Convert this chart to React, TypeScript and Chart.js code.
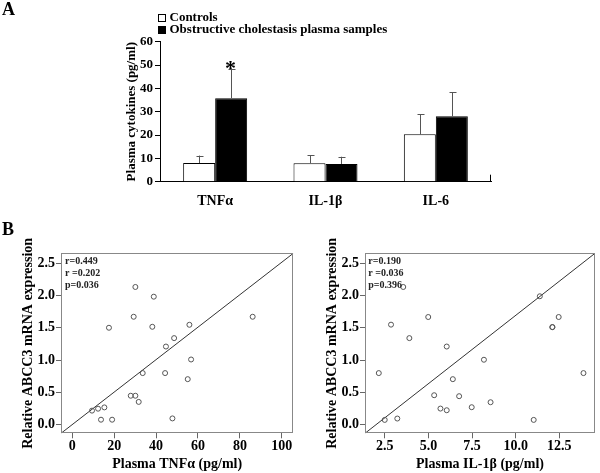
import React, { useEffect, useRef } from 'react';
import { Chart, registerables } from 'chart.js';
Chart.register(...registerables);

const SERIF = "'Liberation Serif', 'Times New Roman', serif";

// ---- Panel A data ----
const cytokines = ['TNFα', 'IL-1β', 'IL-6'];
const controlsMean = [8.0, 7.9, 20.3];
const controlsSD = [3.2, 3.5, 8.6];
const patientsMean = [35.8, 7.6, 28.0];
const patientsSD = [12.6, 3.1, 10.3];
const seriesLabels = ['Controls', 'Obstructive cholestasis plasma samples'];
const barYTitle = 'Plasma cytokines (pg/ml)';
const significant = [true, false, false];

// ---- Panel B data ----
const tnfX = [30.1, 38.9, 29.3, 86.1, 55.9, 38.2, 17.5, 48.6, 44.7, 56.7, 33.6, 44.3, 55.1, 27.9, 30.1, 31.7, 15.3, 12.3, 9.4, 47.8, 13.7, 19.0];
const tnfY = [2.13, 1.98, 1.67, 1.67, 1.546, 1.515, 1.50, 1.34, 1.21, 1.01, 0.80, 0.80, 0.706, 0.45, 0.45, 0.355, 0.27, 0.25, 0.22, 0.10, 0.08, 0.08];
const il1bX = [3.56, 11.38, 4.99, 12.46, 2.86, 12.1, 12.1, 3.91, 6.05, 8.18, 2.16, 13.88, 6.40, 5.33, 6.76, 8.56, 7.48, 5.69, 6.05, 3.22, 2.5, 11.03];
const il1bY = [2.13, 1.986, 1.666, 1.666, 1.548, 1.51, 1.51, 1.34, 1.21, 1.006, 0.80, 0.80, 0.706, 0.458, 0.443, 0.35, 0.273, 0.252, 0.226, 0.098, 0.077, 0.077];
const tnfStats = ['r=0.449', 'r =0.202', 'p=0.036'];
const il1bStats = ['r=0.190', 'r =0.036', 'p=0.396'];
const tnfXRange = [-5.4, 105.5];
const il1bXRange = [1.37, 14.54];
const yRange = [-0.13, 2.65];
const tnfXStep = 20;
const il1bXStep = 2.5;
const yStep = 0.5;
const scatterYTitle = 'Relative ABCC3 mRNA expression';
const tnfXTitle = 'Plasma TNFα (pg/ml)';
const il1bXTitle = 'Plasma IL-1β (pg/ml)';

const errorBarPlugin = {
  id: 'errorBars',
  afterDatasetsDraw(chart: any) {
    const ctx = chart.ctx;
    const y = chart.scales.y;
    const sds = [controlsSD, patientsSD];
    ctx.save();
    ctx.strokeStyle = '#555';
    ctx.lineWidth = 1;
    chart.data.datasets.forEach((ds: any, di: number) => {
      const meta = chart.getDatasetMeta(di);
      meta.data.forEach((bar: any, i: number) => {
        const top = y.getPixelForValue(ds.data[i] + sds[di][i]);
        const x = Math.round(bar.x) + 0.5;
        ctx.beginPath();
        ctx.moveTo(x, bar.y);
        ctx.lineTo(x, top);
        ctx.moveTo(x - 3, Math.round(top) + 0.5);
        ctx.lineTo(x + 4, Math.round(top) + 0.5);
        ctx.stroke();
        if (di === 1 && significant[i]) {
          ctx.fillStyle = '#000';
          ctx.font = `bold 22px ${SERIF}`;
          ctx.textAlign = 'center';
          ctx.textBaseline = 'alphabetic';
          ctx.fillText('*', x - 1, top + 6);
        }
      });
    });
    // right end tick of x axis
    const a = chart.chartArea;
    ctx.strokeStyle = '#000';
    ctx.beginPath();
    ctx.moveTo(Math.round(a.right) - 0.5, a.bottom);
    ctx.lineTo(Math.round(a.right) - 0.5, a.bottom - 7);
    ctx.stroke();
    ctx.restore();
  },
};

const legendPlugin = {
  id: 'customLegend',
  afterDraw(chart: any) {
    const ctx = chart.ctx;
    ctx.save();
    chart.data.datasets.forEach((ds: any, i: number) => {
      const cy = 18 + i * 12;
      ctx.fillStyle = ds.backgroundColor;
      ctx.fillRect(158.5, cy - 3.5, 7, 7);
      ctx.strokeStyle = '#000';
      ctx.lineWidth = 1;
      ctx.strokeRect(158.5, cy - 3.5, 7, 7);
      ctx.fillStyle = '#000';
      ctx.font = `bold 13px ${SERIF}`;
      ctx.textAlign = 'left';
      ctx.textBaseline = 'middle';
      ctx.fillText(ds.label, 169.5, cy);
    });
    ctx.restore();
  },
};

const boxPlugin = {
  id: 'plotBox',
  afterDatasetsDraw(chart: any) {
    const a = chart.chartArea;
    const ctx = chart.ctx;
    ctx.save();
    ctx.strokeStyle = '#888';
    ctx.lineWidth = 1;
    ctx.strokeRect(Math.round(a.left) + 0.5, Math.round(a.top) + 0.5, Math.round(a.right - a.left) - 1, Math.round(a.bottom - a.top) - 1);
    const stats: string[] = chart.options.plugins.plotBox.lines;
    ctx.fillStyle = '#222';
    ctx.font = `bold 10px ${SERIF}`;
    ctx.textAlign = 'left';
    ctx.textBaseline = 'middle';
    stats.forEach((t, i) => ctx.fillText(t, a.left + chart.options.plugins.plotBox.dx, a.top + 8.5 + i * 11.7));
    ctx.restore();
  },
};

function tickFont(size: number) {
  return { family: SERIF, size, weight: 'bold' as const };
}

function scatterConfig(xs: number[], ys: number[], stats: string[], xTitle: string, xRange: number[], xStep: number, xDecimals: number, padLeft: number, yWidth: number, padRight: number, dx: number): any {
  return {
    type: 'scatter',
    data: {
      datasets: [
        {
          data: xs.map((x, i) => ({ x, y: ys[i] })),
          pointRadius: 2.5,
          pointBorderColor: '#555',
          pointBackgroundColor: 'rgba(255,255,255,0)',
          pointBorderWidth: 1,
        },
        {
          data: [
            { x: xRange[0], y: yRange[0] },
            { x: xRange[1], y: yRange[1] },
          ],
          showLine: true,
          pointRadius: 0,
          borderColor: '#333',
          borderWidth: 1,
        },
      ],
    },
    options: {
      responsive: false,
      animation: false,
      devicePixelRatio: 1,
      layout: { padding: { left: padLeft, top: 33.3, right: padRight, bottom: 0 } },
      plugins: { legend: { display: false }, tooltip: { enabled: false }, plotBox: { lines: stats, dx } },
      scales: {
        x: {
          type: 'linear',
          min: xRange[0],
          max: xRange[1],
          grid: { drawOnChartArea: false, drawTicks: true, tickLength: 5, color: '#666' },
          border: { display: false },
          ticks: {
            stepSize: xStep,
            includeBounds: false,
            color: '#000',
            font: tickFont(14),
            padding: 0,
            maxRotation: 0,
            callback: (v: any) => Number(v).toFixed(xDecimals),
          },
          title: { display: true, text: xTitle, color: '#000', font: tickFont(14), padding: 0 },
          afterFit: (s: any) => { s.height = 39.7; },
        },
        y: {
          type: 'linear',
          min: yRange[0],
          max: yRange[1],
          grid: { drawOnChartArea: false, drawTicks: true, tickLength: 5, color: '#666' },
          border: { display: false },
          ticks: {
            stepSize: yStep,
            includeBounds: false,
            color: '#000',
            font: tickFont(14),
            padding: 1,
            callback: (v: any) => Number(v).toFixed(1),
          },
          title: { display: true, text: scatterYTitle, color: '#000', font: tickFont(14), padding: 0 },
          afterFit: (s: any) => { s.width = yWidth; },
        },
      },
    },
    plugins: [boxPlugin],
  };
}

export default function App() {
  const barRef = useRef<HTMLCanvasElement>(null);
  const leftRef = useRef<HTMLCanvasElement>(null);
  const rightRef = useRef<HTMLCanvasElement>(null);

  useEffect(() => {
    const bar = new Chart(barRef.current as HTMLCanvasElement, {
      type: 'bar',
      data: {
        labels: cytokines,
        datasets: [
          { label: seriesLabels[0], data: controlsMean, backgroundColor: '#fff', borderColor: '#000', borderWidth: 1, barPercentage: 1, categoryPercentage: 0.58 },
          { label: seriesLabels[1], data: patientsMean, backgroundColor: '#000', borderColor: '#000', borderWidth: 1, barPercentage: 1, categoryPercentage: 0.58 },
        ],
      },
      options: {
        responsive: false,
        animation: false,
        devicePixelRatio: 1,
        layout: { padding: { left: 124, top: 41.7, right: 109, bottom: 3.3 } },
        plugins: { legend: { display: false }, tooltip: { enabled: false } },
        scales: {
          x: {
            grid: { display: false },
            border: { display: true, color: '#000', width: 1 },
            ticks: { color: '#000', font: tickFont(14), padding: 3 },
            afterFit: (s: any) => { s.height = 30; },
          },
          y: {
            min: 0,
            max: 60,
            ticks: { stepSize: 10, color: '#000', font: tickFont(13), padding: 2 },
            grid: { drawOnChartArea: false, drawTicks: true, tickLength: 5, color: '#000' },
            border: { display: true, color: '#000', width: 1 },
            title: { display: true, text: barYTitle, color: '#000', font: tickFont(13), padding: 0 },
            afterFit: (s: any) => { s.width = 36; },
          },
        },
      } as any,
      plugins: [errorBarPlugin, legendPlugin],
    });

    const left = new Chart(
      leftRef.current as HTMLCanvasElement,
      scatterConfig(tnfX, tnfY, tnfStats, tnfXTitle, tnfXRange, tnfXStep, 0, 19.6, 41.4, 6.7, 4)
    );
    const right = new Chart(
      rightRef.current as HTMLCanvasElement,
      scatterConfig(il1bX, il1bY, il1bStats, il1bXTitle, il1bXRange, il1bXStep, 1, 23.9, 41.1, 2.3, 3.3)
    );

    return () => {
      bar.destroy();
      left.destroy();
      right.destroy();
    };
  }, []);

  const letter: React.CSSProperties = {
    position: 'absolute',
    left: 2,
    fontFamily: SERIF,
    fontWeight: 'bold',
    fontSize: 18,
    lineHeight: '18px',
    color: '#000',
  };

  return (
    <div style={{ position: 'absolute', left: 0, top: 0, width: 600, height: 473, background: '#fff', overflow: 'hidden' }}>
      <canvas ref={barRef} width={600} height={215} style={{ position: 'absolute', left: 0, top: 0 }} />
      <canvas ref={leftRef} width={300} height={253} style={{ position: 'absolute', left: 0, top: 220 }} />
      <canvas ref={rightRef} width={300} height={253} style={{ position: 'absolute', left: 300, top: 220 }} />
      <div style={{ ...letter, top: 0 }}>A</div>
      <div style={{ ...letter, top: 220 }}>B</div>
    </div>
  );
}
